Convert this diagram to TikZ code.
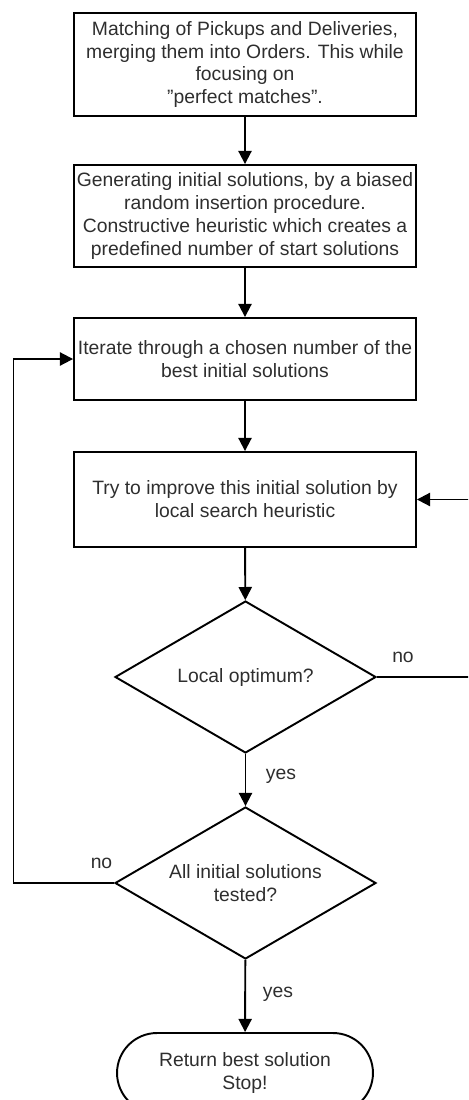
\documentclass[tikz,border=0pt]{standalone}
\usepackage{fontspec}
\setmainfont{Liberation Sans}
\usetikzlibrary{arrows.meta,shapes.geometric}
\definecolor{txt}{HTML}{2E2E2E}
\begin{document}
\begin{tikzpicture}[x=0.02cm,y=-0.02cm,
  every node/.style={font=\fontsize{11}{13}\selectfont,text=txt},
  procbox/.style={draw=black,line width=1.1pt,rectangle,inner sep=0pt,
    minimum width=6.84cm,align=center},
  decision/.style={draw=black,line width=1.1pt,diamond,inner sep=0pt,
    minimum width=5.22cm,minimum height=3.04cm},
  decisiontext/.style={inner sep=0pt,align=center},
  terminal/.style={draw=black,line width=1.1pt,rectangle,rounded corners=0.8cm,
    inner sep=0pt,minimum width=5.12cm,minimum height=1.6cm,align=center},
  flow/.style={line width=1.1pt,-{Triangle[length=7.5pt,width=7.5pt]}},
  lbl/.style={inner sep=0pt}]
\useasboundingbox (0,0) rectangle (468,1100);
\clip (0,0) rectangle (468,1100);

% process steps
\node[procbox,minimum height=2.06cm] (match) at (245,64.5)
  {Matching of Pickups and Deliveries,\\merging them into Orders. This while\\focusing on\\”perfect matches”.};
\node[procbox,minimum height=2.04cm] (init) at (245,216)
  {Generating initial solutions, by a biased\\random insertion procedure.\\Constructive heuristic which creates a\\predefined number of start solutions};
\node[procbox,minimum height=1.64cm] (iter) at (245,359)
  {Iterate through a chosen number of the\\best initial solutions};
\node[procbox,minimum height=1.9cm] (improve) at (245,499.5)
  {Try to improve this initial solution by\\local search heuristic};

% decisions: the outline keeps its fixed size, the question sits on top
\node[decision] (localopt) at (245.5,677) {};
\node[decisiontext] (localopttxt) at (localopt.center) {Local optimum?};
\node[decision] (alltested) at (245.5,883) {};
\node[decisiontext] (alltestedtxt) at (alltested.center) {All initial solutions\\tested?};

% end
\node[terminal] (stop) at (245,1073) {Return best solution\\Stop!};

% main flow
\draw[flow] (match) -- (init);
\draw[flow] (init) -- (iter);
\draw[flow] (iter) -- (improve);
\draw[flow] (improve) -- (localopt);
\draw[flow] (localopt) -- (alltested);
\draw[flow] (alltested) -- (stop);

% feedback loops
\coordinate (rdown) at (475,677);
\coordinate (rup) at (475,499.5);
\draw[flow] (localopt.east) -- (rdown) -- (rup) -- (improve.east);
\coordinate (ldown) at (13.5,883);
\coordinate (lup) at (13.5,359);
\draw[flow] (alltested.west) -- (ldown) -- (lup) -- (iter.west);

% branch labels
\node[lbl] (no1) at (403,657) {no};
\node[lbl] (yes1) at (281,776) {yes};
\node[lbl] (no2) at (101.5,863) {no};
\node[lbl] (yes2) at (278,994) {yes};
\end{tikzpicture}
\end{document}
